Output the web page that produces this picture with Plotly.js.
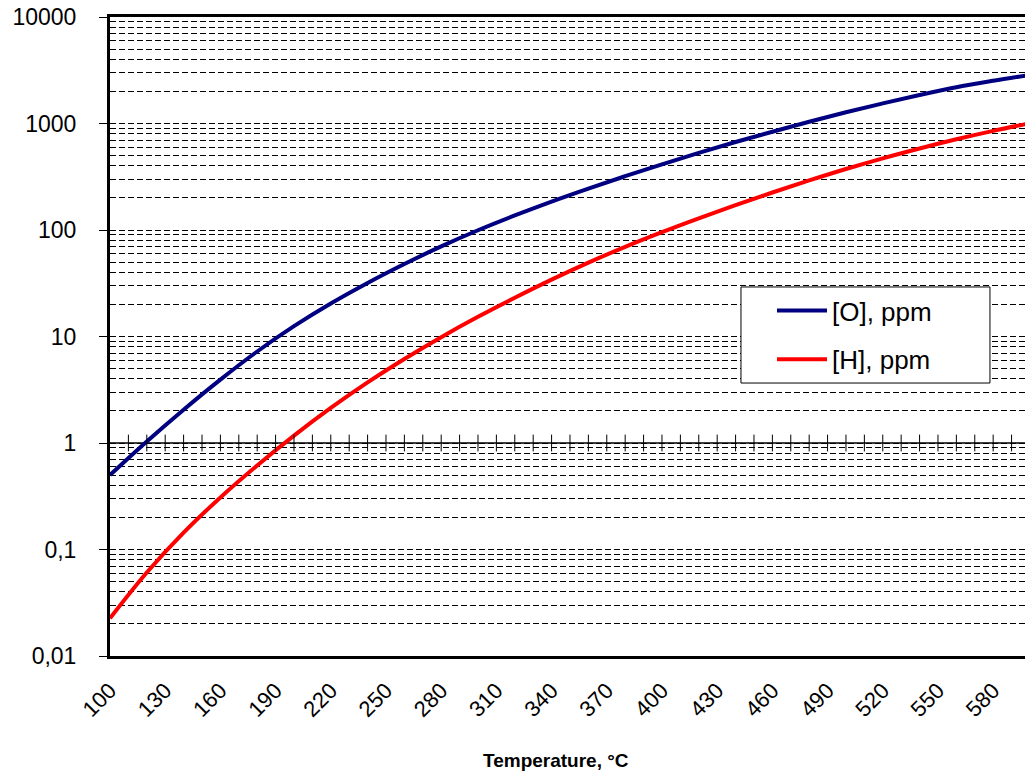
<!DOCTYPE html>
<html>
<head>
<meta charset="utf-8">
<script src="https://cdn.plot.ly/plotly-3.0.1.min.js"></script>
<style>html,body{margin:0;padding:0;background:#fff;overflow:hidden}</style>
</head>
<body>
<div id="chart" style="width:1025px;height:771px"></div>
<script>
// Temperature, °C
const temperature = [100,120,140,160,180,200,220,240,260,280,300,320,340,360,380,400,420,440,460,480,500,520,540,560,580,600];
// [O], ppm
const oxygen = [0.501,1.035,2.056,3.94,7.23,12.5,20.4,31.8,47.9,70.2,99.5,137,185,245,320,414,530,670,837,1038,1274,1545,1854,2193,2518,2858];
// [H], ppm
const hydrogen = [0.0226,0.0608,0.144,0.308,0.615,1.172,2.133,3.707,6.15,9.86,15.3,23.1,34.2,49.4,69.5,95.5,128.8,171,225,292,374,471,583,711,853,1007];

const xTickVals = [100,130,160,190,220,250,280,310,340,370,400,430,460,490,520,550,580];
const xTickText = xTickVals.map(String);
const crossTicks = [110,120,130,140,150,160,170,180,190,200,210,220,230,240,250,260,270,280,290,300,310,320,330,340,350,360,370,380,390,400,410,420,430,440,450,460,470,480,490,500,510,520,530,540,550,560,570,580,590,600];
const yTickVals = [0.01,0.1,1,10,100,1000,10000];
const yTickText = ["0,01","0,1","1","10","100","1000","10000"];

const minorVals = [];
for (const d of [0.01,0.1,1,10,100,1000]) for (let k = 2; k <= 9; k++) minorVals.push(d * k);

const traces = [
  {x: temperature, y: oxygen, name: "[O], ppm", mode: "lines",
   line: {color: "#000080", width: 4, shape: "spline", smoothing: 1}, legendgroup: "a"},
  {x: temperature, y: hydrogen, name: "[H], ppm", mode: "lines",
   line: {color: "#FF0000", width: 4, shape: "spline", smoothing: 1}, legendgroup: "b"},
  {x: crossTicks, y: crossTicks.map(() => 1), mode: "markers", showlegend: false, hoverinfo: "skip",
   marker: {symbol: "line-ns-open", size: 12, color: "#000", line: {color: "#000", width: 1}}}
];

const layout = {
  width: 1025, height: 771,
  margin: {l: 110, r: 0, t: 17, b: 115},
  paper_bgcolor: "#fff", plot_bgcolor: "#fff",
  font: {family: "Liberation Sans, Arial, sans-serif", color: "#000"},
  hovermode: false,
  showlegend: true,
  legend: {x: 0.7235, y: 0.5775, xanchor: "left", yanchor: "top",
           bgcolor: "rgba(0,0,0,0)", borderwidth: 0,
           font: {size: 26, family: "Liberation Sans, Arial, sans-serif", color: "#000"},
           tracegroupgap: 12, traceorder: "grouped", itemwidth: 50},
  xaxis: {range: [100, 597.3], tickmode: "array", tickvals: xTickVals, ticktext: xTickText,
          tickangle: -45, tickfont: {size: 22}, ticks: "", ticklabelstandoff: 10,
          showgrid: false, zeroline: false,
          showline: true, linecolor: "#000", linewidth: 3, mirror: true},
  yaxis: {type: "log", range: [-2, 4], tickmode: "array", tickvals: yTickVals, ticktext: yTickText,
          tickfont: {size: 23}, ticks: "outside", ticklen: 8, tickcolor: "#000", tickwidth: 1,
          ticklabelstandoff: 18,
          showgrid: true, gridcolor: "#000", gridwidth: 1, griddash: "6px,3px",
          showline: true, linecolor: "#000", linewidth: 3, zeroline: false,
          minor: {tickmode: "array", tickvals: minorVals, showgrid: true, gridcolor: "#000",
                  gridwidth: 1, griddash: "6px,3px", ticks: ""}},
  shapes: [
    {type: "line", xref: "paper", x0: 0, x1: 1, yref: "y", y0: 1, y1: 1,
     line: {color: "#000", width: 1.5}, layer: "below"},
    {type: "rect", xref: "paper", yref: "paper", x0: 0.6896, x1: 0.9617, y0: 0.4272, y1: 0.5775,
     fillcolor: "#fff", line: {color: "#000", width: 1}, layer: "above"}
  ],
  annotations: [{text: "<b>Temperature, °C</b>", xref: "paper", yref: "paper",
                 x: 0.4874, y: -0.1628, xanchor: "center", yanchor: "middle", showarrow: false,
                 font: {size: 19, color: "#000"}}]
};

Plotly.newPlot("chart", traces, layout, {displayModeBar: false, staticPlot: true});
</script>
</body>
</html>
